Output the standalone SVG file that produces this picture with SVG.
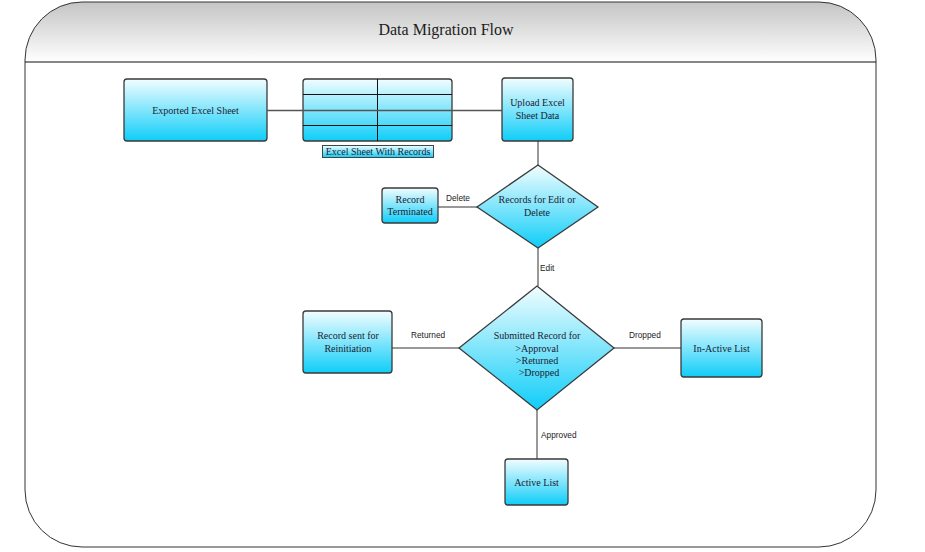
<svg xmlns="http://www.w3.org/2000/svg" width="925" height="552" viewBox="0 0 925 552">
<defs>
<linearGradient id="cy" x1="0" y1="0" x2="0" y2="1">
<stop offset="0" stop-color="#f2fdff"/>
<stop offset="1" stop-color="#0fcdf8"/>
</linearGradient>
<linearGradient id="hd" x1="0" y1="0" x2="0" y2="1">
<stop offset="0" stop-color="#c4c4c4"/>
<stop offset="1" stop-color="#ffffff"/>
</linearGradient>
<style>
.n{fill:url(#cy);stroke:#3a3a3a;stroke-width:1.3}
.t{font-family:"Liberation Serif",serif;font-size:10px;fill:#1c2230;text-anchor:middle}
.l{font-family:"Liberation Sans",sans-serif;font-size:8.3px;fill:#222}
.c{stroke:#333;stroke-width:1;fill:none}
</style>
</defs>
<g id="container">
<path d="M25,62 L25,60 A57,58 0 0 1 82,2 L819,2 A57,58 0 0 1 876,60 L876,62 Z" fill="url(#hd)"/>
<path d="M25,60 A57,58 0 0 1 82,2 L819,2 A57,58 0 0 1 876,60 L876,490 A57,57 0 0 1 819,547 L82,547 A57,57 0 0 1 25,490 Z" fill="none" stroke="#333" stroke-width="1"/>
<line x1="25" y1="62" x2="876" y2="62" stroke="#111" stroke-width="1.2"/>
<text x="446" y="35" font-family="Liberation Serif,serif" font-size="16" fill="#1c1c1c" text-anchor="middle">Data Migration Flow</text>
</g>
<g id="exported">
<rect class="n" x="124" y="79" width="143" height="62" rx="3"/>
<text class="t" x="195.5" y="113.5">Exported Excel Sheet</text>
</g>
<g id="table">
<rect class="n" x="303" y="79" width="149" height="62" rx="3"/>
<line x1="303" y1="94.5" x2="452" y2="94.5" stroke="#111" stroke-width="1"/>
<line x1="303" y1="125.5" x2="452" y2="125.5" stroke="#111" stroke-width="1"/>
<line x1="377.5" y1="79" x2="377.5" y2="141" stroke="#111" stroke-width="1"/>
<rect x="322.5" y="145.5" width="111" height="12" fill="url(#cy)" stroke="#444" stroke-width="1"/>
<text class="t" x="378" y="155">Excel Sheet With Records</text>
</g>
<g id="upload">
<rect class="n" x="502" y="78" width="71" height="63" rx="3"/>
<text class="t" x="537.5" y="106">Upload Excel</text>
<text class="t" x="537.5" y="119">Sheet Data</text>
</g>
<g id="decision1">
<polygon class="n" points="538,165 598,207 538,248 477,207" stroke-width="1"/>
<text class="t" x="537" y="203">Records for Edit or</text>
<text class="t" x="537" y="216">Delete</text>
</g>
<g id="terminated">
<rect class="n" x="382" y="188" width="56" height="35" rx="3"/>
<text class="t" x="410" y="203">Record</text>
<text class="t" x="410" y="215">Terminated</text>
</g>
<g id="decision2">
<polygon class="n" points="537,286 614,348 537,410 459,348" stroke-width="1"/>
<text class="t" x="537" y="339">Submitted Record for</text>
<text class="t" x="537" y="351.5">&gt;Approval</text>
<text class="t" x="537" y="364">&gt;Returned</text>
<text class="t" x="539" y="376">&gt;Dropped</text>
</g>
<g id="reinit">
<rect class="n" x="303" y="311" width="89" height="62" rx="3"/>
<text class="t" x="348" y="339">Record sent for</text>
<text class="t" x="348" y="351.5">Reinitiation</text>
</g>
<g id="inactive">
<rect class="n" x="681" y="319" width="81" height="58" rx="3"/>
<text class="t" x="721.5" y="351.5">In-Active List</text>
</g>
<g id="active">
<rect class="n" x="505" y="459" width="63" height="46" rx="3"/>
<text class="t" x="536.5" y="485.5">Active List</text>
</g>
<g id="connectors">
<line x1="267" y1="110.5" x2="502" y2="110.5" stroke="#555" stroke-width="1.3"/>
<line class="c" x1="538" y1="141" x2="538" y2="165"/>
<line class="c" x1="438" y1="207" x2="477" y2="207"/>
<line class="c" x1="538" y1="248" x2="538" y2="286"/>
<line class="c" x1="392" y1="348" x2="459" y2="348"/>
<line class="c" x1="614" y1="348" x2="681" y2="348"/>
<line class="c" x1="537" y1="410" x2="537" y2="459"/>
<text class="l" x="446" y="201">Delete</text>
<text class="l" x="540" y="271">Edit</text>
<text class="l" x="411" y="338">Returned</text>
<text class="l" x="629" y="338">Dropped</text>
<text class="l" x="541" y="438">Approved</text>
</g>
</svg>
